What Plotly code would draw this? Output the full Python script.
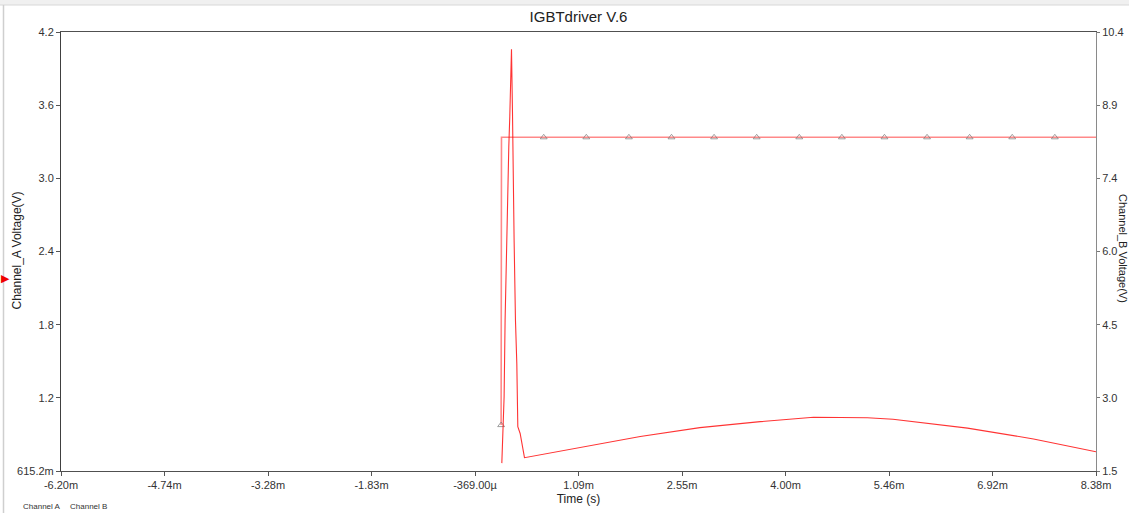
import plotly.graph_objects as go
import numpy as np

# ---------------- data ----------------
title_text = "IGBTdriver V.6"

# Channel A (left axis): logic step, time in ms
t_a = [0.0, 0.005, 0.6, 1.2, 1.8, 2.4, 3.0, 3.6, 4.2, 4.8, 5.4, 6.0, 6.6, 7.2, 7.8, 8.38]
v_a = [0.99, 3.34, 3.34, 3.34, 3.34, 3.34, 3.34, 3.34, 3.34, 3.34, 3.34, 3.34, 3.34, 3.34, 3.34, 3.34]
marker_a = [1, 0, 1, 1, 1, 1, 1, 1, 1, 1, 1, 1, 1, 1, 1, 0]

# Channel B (right axis): gate spike + slow hump, time in ms
t_b = [0.010, 0.019, 0.042, 0.056, 0.075, 0.089, 0.108, 0.122, 0.136, 0.146,
       0.160, 0.169, 0.183, 0.202, 0.221, 0.235, 0.268, 0.329, 1.00, 1.96,
       2.80, 3.27, 3.65, 4.40, 5.16, 5.52, 6.57, 7.50, 8.38]
v_b = [1.66, 2.06, 3.00, 4.56, 5.98, 6.99, 8.07, 8.68, 9.76, 10.05,
       8.78, 7.06, 6.18, 4.56, 3.68, 2.40, 2.26, 1.77, 1.95, 2.20,
       2.38, 2.45, 2.50, 2.59, 2.58, 2.55, 2.37, 2.15, 1.89]

x_range = [-6.20, 8.38]
x_ticktext = ["-6.20m", "-4.74m", "-3.28m", "-1.83m", "-369.00\u00b5", "1.09m",
              "2.55m", "4.00m", "5.46m", "6.92m", "8.38m"]
yl_range = [0.6152, 4.2]
yl_ticktext = ["615.2m", "1.2", "1.8", "2.4", "3.0", "3.6", "4.2"]
yr_range = [1.5, 10.4]
yr_ticktext = ["1.5", "3.0", "4.5", "6.0", "7.4", "8.9", "10.4"]

legend_names = ["Channel A", "Channel B"]
left_title = "Channel_A Voltage(V)"
right_title = "Channel_B Voltage(V)"
x_title = "Time (s)"

# ---------------- layout geometry ----------------
W, H = 1129, 513
L, R, T, B = 61, 1096, 32, 471
FONT = "Liberation Sans, Arial, sans-serif"


def px(x):
    return (x - L) / (R - L)


def py(y):
    return (B - y) / (B - T)


fig = go.Figure()

fig.add_trace(go.Scatter(
    x=t_b, y=v_b, yaxis="y2", mode="lines", name=legend_names[1],
    line=dict(color="rgba(255,0,0,0.8)", width=1.1),
))

fig.add_trace(go.Scatter(
    x=t_a, y=v_a, mode="lines+markers", name=legend_names[0],
    line=dict(color="rgba(255,40,40,0.55)", width=1.6),
    marker=dict(symbol="triangle-up-open", color="#777777",
                size=[6 * m for m in marker_a], line=dict(width=1, color="#777777")),
))

axis_font = dict(family=FONT, size=11, color="#333333")

fig.update_layout(
    width=W, height=H,
    margin=dict(l=L, r=W - R, t=T, b=H - B, autoexpand=False),
    paper_bgcolor="white", plot_bgcolor="white",
    showlegend=False,
    title=dict(text=title_text, x=0.5, xref="paper", xanchor="center",
               y=1 - 17 / H, yanchor="middle",
               font=dict(family=FONT, size=15, color="#222222")),
    xaxis=dict(
        range=x_range, tickmode="array",
        tickvals=list(np.linspace(x_range[0], x_range[1], len(x_ticktext))),
        ticktext=x_ticktext, ticks="outside", ticklen=4, tickcolor="#555555",
        showgrid=False, zeroline=False, showline=True, linecolor="#505050",
        linewidth=1, mirror=True, tickfont=axis_font,
        title=dict(text=x_title, font=dict(family=FONT, size=12, color="#222222"),
                   standoff=4),
        automargin=False,
    ),
    yaxis=dict(
        range=yl_range, tickmode="array",
        tickvals=list(np.linspace(yl_range[0], yl_range[1], len(yl_ticktext))),
        ticktext=yl_ticktext, ticks="outside", ticklen=4, tickcolor="#555555",
        showgrid=False, zeroline=False, showline=True, linecolor="#404040",
        linewidth=1, tickfont=axis_font, automargin=False,
    ),
    yaxis2=dict(
        range=yr_range, overlaying="y", side="right", tickmode="array",
        tickvals=list(np.linspace(yr_range[0], yr_range[1], len(yr_ticktext))),
        ticktext=yr_ticktext, ticks="outside", ticklen=3, tickcolor="#777777",
        showgrid=False, zeroline=False, showline=True, linecolor="#8a8a8a",
        linewidth=1, tickfont=axis_font, automargin=False,
    ),
)

# left axis title
fig.add_annotation(text=left_title, xref="paper", yref="paper",
                   x=px(16.5), y=py(251), textangle=-90, showarrow=False,
                   xanchor="center", yanchor="middle",
                   font=dict(family=FONT, size=12, color="#222222"))

# right axis title, pushed to the window edge
fig.add_annotation(text=right_title, xref="paper", yref="paper",
                   x=px(1123), y=py(248), textangle=90, showarrow=False,
                   xanchor="center", yanchor="middle",
                   font=dict(family=FONT, size=11, color="#222222"))

# trigger marker on left edge
fig.add_annotation(text="\u25B6", xref="paper", yref="paper", x=px(5.5), y=py(278),
                   showarrow=False, xanchor="center", yanchor="middle",
                   font=dict(family="DejaVu Sans", size=11, color="#ee0000"))

# bottom channel labels
fig.add_annotation(text=legend_names[0], xref="paper", yref="paper", x=px(21), y=py(506),
                   showarrow=False, xanchor="left", yanchor="middle",
                   font=dict(family=FONT, size=8, color="#333333"))
fig.add_annotation(text=legend_names[1], xref="paper", yref="paper", x=px(68), y=py(506),
                   showarrow=False, xanchor="left", yanchor="middle",
                   font=dict(family=FONT, size=8, color="#333333"))

# window chrome: top bar and left border
fig.add_shape(type="rect", xref="paper", yref="paper", x0=px(0), x1=px(W), y0=py(5), y1=py(0),
              fillcolor="#f0f0f0", line=dict(width=0), layer="below")
fig.add_shape(type="line", xref="paper", yref="paper", x0=px(0), x1=px(W), y0=py(5), y1=py(5),
              line=dict(color="#d8d8d8", width=1))
fig.add_shape(type="line", xref="paper", yref="paper", x0=px(3.5), x1=px(3.5), y0=py(5), y1=py(H),
              line=dict(color="#cfcfcf", width=1.5))

fig.write_html("out.html")
